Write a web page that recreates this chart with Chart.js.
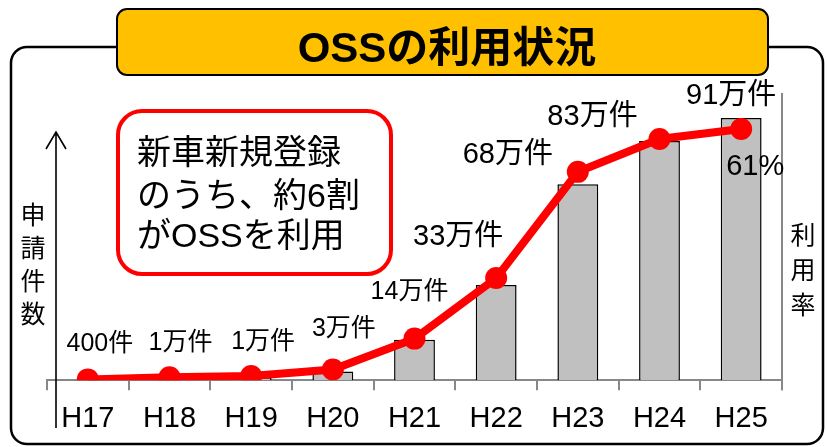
<!DOCTYPE html>
<html>
<head>
<meta charset="utf-8">
<script src="https://cdn.jsdelivr.net/npm/chart.js@4"></script>
<style>
html,body{margin:0;padding:0;background:#fff;}
#wrap{width:827px;height:447px;position:relative;}
</style>
</head>
<body>
<div id="wrap"><canvas id="c" width="827" height="447"></canvas></div>
<script>
const categories = ['H17','H18','H19','H20','H21','H22','H23','H24','H25'];
const applications = [0.04, 1, 1, 3, 14, 33, 68, 83, 91];   // 万件
const usageRate = [0.2, 0.7, 1.0, 2.6, 10.1, 24.8, 50.6, 58.6, 61]; // %
const appLabels = ['400件','1万件','1万件','3万件','14万件','33万件','68万件','83万件','91万件'];
const rateLabel = '61%';
const titleText = 'OSSの利用状況';
const calloutLines = ['新車新規登録','のうち、約6割','がOSSを利用'];
const leftAxisTitle = ['申','請','件','数'];
const rightAxisTitle = ['利','用','率'];

const FF = "'Liberation Sans', Arial, 'Noto Sans CJK JP', sans-serif";
// label placement relative to line points [dx, dy, fontSize]
const labelOffsets = [[12,-35,25],[11,-34,25],[12,-34,25],[11,-40,25],[-5,-47,25],[-38,-41,29],[-70,-17,29],[-67,-22,29],[-10,-33,29]];

const deco = {
  id: 'deco',
  beforeDraw(chart) {
    const ctx = chart.ctx;
    ctx.save();
    ctx.fillStyle = '#fff';
    ctx.fillRect(0,0,chart.width,chart.height);
    // outer border
    ctx.strokeStyle = '#000';
    ctx.lineWidth = 2.5;
    ctx.beginPath();
    ctx.roundRect(11, 47, 812, 397, 16);
    ctx.stroke();
    // title box
    ctx.fillStyle = '#FFC000';
    ctx.lineWidth = 2;
    ctx.beginPath();
    ctx.roundRect(117, 9, 651, 66, 10);
    ctx.fill();
    ctx.stroke();
    ctx.fillStyle = '#000';
    ctx.font = "bold 42px " + FF;
    ctx.textAlign = 'center';
    ctx.textBaseline = 'alphabetic';
    ctx.fillText(titleText, 447, 62);
    ctx.restore();
  },
  afterDraw(chart) {
    const ctx = chart.ctx;
    const ca = chart.chartArea;
    ctx.save();
    // right axis line
    ctx.strokeStyle = '#888';
    ctx.lineWidth = 2;
    ctx.beginPath();
    ctx.moveTo(ca.right, 93);
    ctx.lineTo(ca.right, ca.bottom + 10);
    ctx.stroke();
    // left arrow
    ctx.strokeStyle = '#000';
    ctx.lineWidth = 1.6;
    ctx.beginPath();
    ctx.moveTo(56, 428);
    ctx.lineTo(56, 132);
    ctx.moveTo(46, 149);
    ctx.lineTo(56, 132);
    ctx.lineTo(66, 149);
    ctx.stroke();
    // callout box
    ctx.strokeStyle = '#FF0000';
    ctx.lineWidth = 4;
    ctx.beginPath();
    ctx.roundRect(118, 111, 273, 163, 24);
    ctx.stroke();
    ctx.fillStyle = '#000';
    ctx.font = "34px " + FF;
    ctx.textAlign = 'left';
    ctx.textBaseline = 'middle';
    const ys = [155, 198, 238];
    calloutLines.forEach((t,i)=>ctx.fillText(t, 137, ys[i]));
    // axis titles
    ctx.font = "25px " + FF;
    ctx.textAlign = 'center';
    leftAxisTitle.forEach((t,i)=>ctx.fillText(t, 33, 217 + i*33));
    rightAxisTitle.forEach((t,i)=>ctx.fillText(t, 803, 237 + i*35));
    // data labels
    const lineMeta = chart.getDatasetMeta(0);
    lineMeta.data.forEach((pt,i)=>{
      const o = labelOffsets[i];
      ctx.font = o[2] + "px " + FF;
      ctx.fillText(appLabels[i], pt.x + o[0], pt.y + o[1]);
    });
    const last = lineMeta.data[lineMeta.data.length-1];
    ctx.font = "29px " + FF;
    ctx.fillText(rateLabel, last.x + 14, last.y + 38);
    ctx.restore();
  }
};

new Chart(document.getElementById('c'), {
  type: 'bar',
  data: {
    labels: categories,
    datasets: [
      {
        type: 'line',
        data: usageRate,
        yAxisID: 'y1',
        borderColor: '#FF0000',
        backgroundColor: '#FF0000',
        borderWidth: 8,
        pointRadius: 11,
        pointBackgroundColor: '#FF0000',
        pointBorderWidth: 0,
        tension: 0,
        order: 0
      },
      {
        type: 'bar',
        data: applications,
        yAxisID: 'y',
        backgroundColor: '#C0C0C0',
        borderColor: '#000',
        borderWidth: 1.5,
        categoryPercentage: 1,
        barPercentage: 0.5,
        order: 1
      }
    ]
  },
  options: {
    responsive: false,
    animation: false,
    layout: { padding: { left: 47, right: 45, top: 92, bottom: 0 } },
    plugins: { legend: { display: false }, tooltip: { enabled: false }, title: { display: false } },
    scales: {
      x: {
        grid: { offset: true, drawOnChartArea: false, drawTicks: true, tickLength: 10, color: '#888', lineWidth: 2 },
        border: { display: true, color: '#888', width: 2 },
        ticks: { color: '#000', padding: 11, font: { family: FF, size: 29 } }
      },
      y: { display: false, min: 0, max: 100 },
      y1: { display: false, min: 0, max: 70 }
    }
  },
  plugins: [deco]
});
</script>
</body>
</html>
